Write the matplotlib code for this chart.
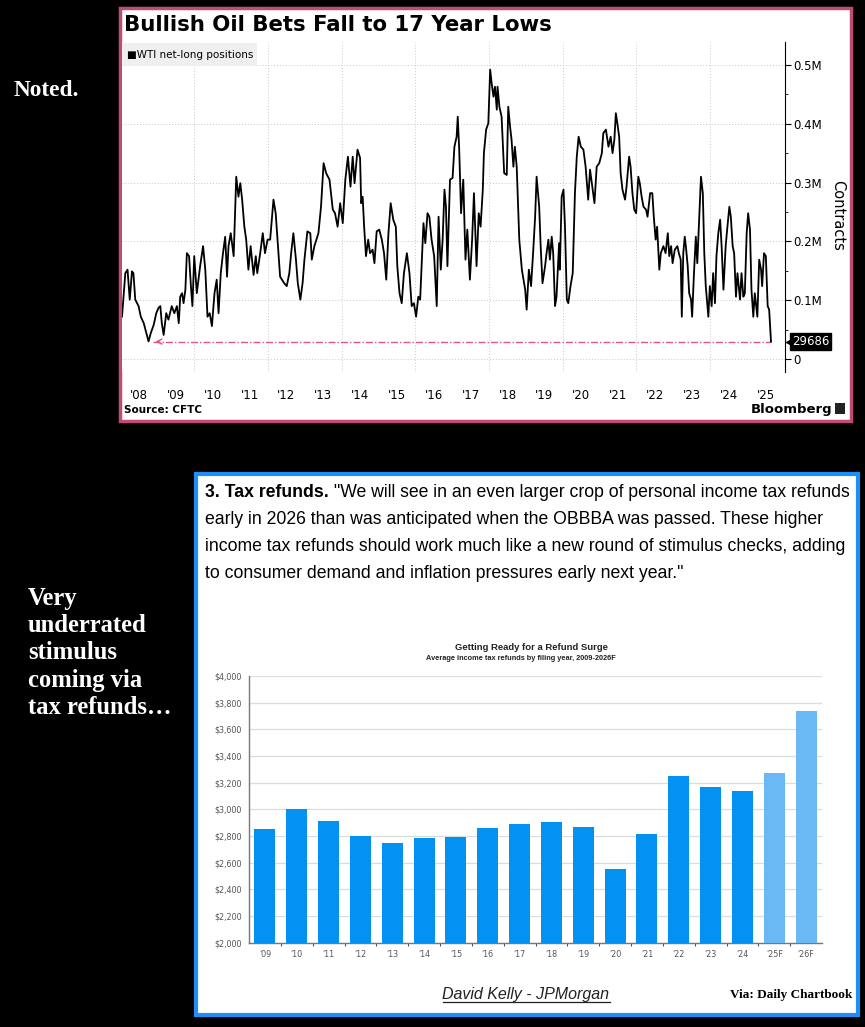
import matplotlib
matplotlib.use('Agg')
import matplotlib.pyplot as plt
import matplotlib.transforms as mtransforms
from matplotlib.patches import Rectangle
from matplotlib.lines import Line2D

# ---- data: WTI net-long positions (thousand contracts)
oil_year = [2008.04, 2008.13, 2008.19, 2008.25, 2008.31, 2008.35, 2008.40, 2008.49, 2008.55, 2008.63,
            2008.70, 2008.76, 2008.82, 2008.90, 2008.97, 2009.03, 2009.08, 2009.12, 2009.17, 2009.24,
            2009.30, 2009.39, 2009.46, 2009.53, 2009.58, 2009.62, 2009.67, 2009.71, 2009.76, 2009.80,
            2009.86, 2009.91, 2009.95, 2010.00, 2010.07, 2010.16, 2010.24, 2010.30, 2010.36, 2010.42,
            2010.48, 2010.55, 2010.61, 2010.66, 2010.72, 2010.78, 2010.84, 2010.89, 2010.93, 2010.99,
            2011.07, 2011.14, 2011.20, 2011.25, 2011.30, 2011.36, 2011.41, 2011.47, 2011.53, 2011.61,
            2011.67, 2011.71, 2011.79, 2011.86, 2011.92, 2011.99, 2012.06, 2012.15, 2012.21, 2012.26,
            2012.33, 2012.44, 2012.51, 2012.58, 2012.63, 2012.69, 2012.76, 2012.81, 2012.88, 2012.94,
            2012.99, 2013.07, 2013.15, 2013.19, 2013.26, 2013.37, 2013.44, 2013.51, 2013.58, 2013.67,
            2013.76, 2013.82, 2013.89, 2013.96, 2014.03, 2014.10, 2014.17, 2014.24, 2014.30, 2014.35,
            2014.43, 2014.50, 2014.53, 2014.57, 2014.61, 2014.66, 2014.72, 2014.77, 2014.84, 2014.89,
            2014.95, 2015.02, 2015.09, 2015.15, 2015.21, 2015.27, 2015.33, 2015.40, 2015.47, 2015.51,
            2015.57, 2015.63, 2015.69, 2015.77, 2015.84, 2015.90, 2015.96, 2016.02, 2016.08, 2016.13,
            2016.17, 2016.22, 2016.27, 2016.33, 2016.38, 2016.44, 2016.51, 2016.58, 2016.63, 2016.69,
            2016.74, 2016.79, 2016.83, 2016.87, 2016.94, 2017.01, 2017.06, 2017.12, 2017.15, 2017.19,
            2017.24, 2017.30, 2017.36, 2017.41, 2017.48, 2017.54, 2017.59, 2017.66, 2017.72, 2017.77,
            2017.83, 2017.86, 2017.92, 2017.98, 2018.03, 2018.07, 2018.12, 2018.16, 2018.21, 2018.23,
            2018.28, 2018.34, 2018.41, 2018.48, 2018.52, 2018.57, 2018.61, 2018.66, 2018.70, 2018.75,
            2018.82, 2018.89, 2018.98, 2019.02, 2019.08, 2019.14, 2019.20, 2019.25, 2019.29, 2019.36,
            2019.40, 2019.45, 2019.52, 2019.56, 2019.61, 2019.65, 2019.70, 2019.74, 2019.79, 2019.83,
            2019.90, 2019.92, 2019.97, 2020.02, 2020.06, 2020.11, 2020.15, 2020.21, 2020.27, 2020.33,
            2020.38, 2020.43, 2020.49, 2020.56, 2020.62, 2020.69, 2020.74, 2020.80, 2020.86, 2020.92,
            2020.99, 2021.06, 2021.10, 2021.17, 2021.24, 2021.30, 2021.35, 2021.40, 2021.44, 2021.48,
            2021.53, 2021.57, 2021.62, 2021.69, 2021.73, 2021.80, 2021.84, 2021.89, 2021.94, 2021.99,
            2022.05, 2022.09, 2022.14, 2022.19, 2022.26, 2022.30, 2022.37, 2022.43, 2022.47, 2022.52,
            2022.56, 2022.62, 2022.66, 2022.73, 2022.79, 2022.85, 2022.89, 2022.94, 2022.98, 2023.04,
            2023.11, 2023.15, 2023.20, 2023.23, 2023.27, 2023.31, 2023.34, 2023.39, 2023.43, 2023.48,
            2023.51, 2023.56, 2023.61, 2023.65, 2023.70, 2023.75, 2023.80, 2023.84, 2023.88, 2023.95,
            2023.99, 2024.04, 2024.08, 2024.13, 2024.17, 2024.22, 2024.27, 2024.31, 2024.36, 2024.42,
            2024.46, 2024.52, 2024.56, 2024.61, 2024.65, 2024.70, 2024.74, 2024.81, 2024.85, 2024.90,
            2024.94, 2024.99, 2025.03, 2025.08, 2025.12, 2025.17, 2025.21, 2025.28, 2025.33, 2025.38,
            2025.41, 2025.46, 2025.51, 2025.56, 2025.60, 2025.65]
oil_k = [72, 146, 152, 101, 149, 146, 101, 90, 72, 61,
         44, 30, 44, 58, 78, 87, 90, 61, 41, 78,
         67, 90, 78, 90, 61, 106, 112, 95, 118, 180,
         175, 124, 90, 175, 112, 158, 192, 152, 72, 78,
         56, 112, 135, 78, 146, 180, 208, 140, 192, 214,
         175, 310, 276, 299, 271, 225, 203, 152, 192, 143,
         175, 146, 180, 214, 180, 203, 203, 271, 248, 203,
         140, 129, 124, 146, 180, 214, 169, 129, 101, 129,
         169, 217, 214, 169, 192, 214, 259, 333, 316, 305,
         254, 248, 225, 265, 231, 305, 344, 293, 344, 299,
         356, 342, 265, 276, 225, 175, 203, 180, 186, 163,
         217, 220, 203, 180, 135, 214, 265, 237, 225, 158,
         112, 95, 146, 180, 146, 90, 95, 72, 106, 101,
         158, 231, 197, 248, 242, 203, 175, 90, 242, 152,
         203, 288, 259, 158, 305, 308, 361, 378, 412, 356,
         248, 305, 169, 220, 135, 203, 282, 158, 248, 225,
         288, 350, 390, 401, 492, 469, 446, 463, 424, 463,
         429, 412, 316, 313, 429, 395, 373, 327, 361, 327,
         203, 152, 118, 84, 152, 124, 186, 242, 310, 259,
         192, 129, 158, 180, 203, 169, 208, 180, 90, 106,
         197, 152, 276, 288, 225, 101, 95, 124, 146, 282,
         344, 378, 361, 356, 327, 271, 322, 293, 265, 327,
         333, 350, 384, 390, 361, 378, 350, 373, 418, 401,
         378, 316, 288, 271, 293, 344, 327, 282, 254, 248,
         310, 299, 276, 259, 254, 242, 282, 282, 242, 203,
         225, 152, 180, 192, 180, 214, 175, 192, 163, 186,
         192, 180, 169, 72, 180, 208, 192, 158, 112, 101,
         72, 146, 208, 163, 237, 310, 282, 180, 124, 72,
         124, 90, 146, 95, 175, 214, 237, 192, 118, 192,
         220, 259, 242, 192, 180, 106, 146, 101, 146, 106,
         112, 214, 248, 220, 118, 72, 112, 72, 169, 152,
         124, 180, 175, 90, 84, 29.686]
latest_contracts = 29686
low_year = 2008.87
oil_ticks_k = [0, 100, 200, 300, 400, 500]
oil_tick_labels = ['0', '0.1M', '0.2M', '0.3M', '0.4M', '0.5M']
year_labels = ["'%02d" % (y % 100) for y in range(2008, 2026)]

# ---- data: average income tax refund by filing year
refund_labels = ["'09", "'10", "'11", "'12", "'13", "'14", "'15", "'16", "'17",
                 "'18", "'19", "'20", "'21", "'22", "'23", "'24", "'25F", "'26F"]
refund_avg = [2855, 3000, 2910, 2800, 2750, 2788, 2795, 2860, 2890,
              2905, 2870, 2550, 2812, 3250, 3170, 3138, 3275, 3738]
refund_forecast = [False] * 16 + [True] * 2

paragraph = ['early in 2026 than was anticipated when the OBBBA was passed. These higher',
             'income tax refunds should work much like a new round of stimulus checks, adding',
             'to consumer demand and inflation pressures early next year."']
blurb = ['Very', 'underrated', 'stimulus', 'coming via', 'tax refunds\u2026']

W, H = 865, 1027


def fx(x):
    return x / W


def fy(y):
    return 1 - y / H


def box(x0, y0, x1, y1):
    return [fx(x0), fy(y1), (x1 - x0) / W, (y1 - y0) / H]


fig = plt.figure(figsize=(W / 100, H / 100), dpi=100, facecolor='black')

# ================= top panel: Bloomberg chart =================
fig.add_artist(Rectangle((fx(120), fy(421)), 731 / W, 413 / H, transform=fig.transFigure,
                         fc='white', ec='#c24b72', lw=2.5, zorder=0))

ax1 = fig.add_axes(box(122, 42, 785, 372))
ax1.set_facecolor('white')
ax1.plot(oil_year, oil_k, color='black', lw=1.3, zorder=3)
ax1.set_xlim(2008.04, 2026.03)
ax1.set_ylim(-22, 539)

for s in ['top', 'left', 'bottom']:
    ax1.spines[s].set_visible(False)
ax1.spines['right'].set_linewidth(0.8)
ax1.yaxis.tick_right()
ax1.set_yticks(oil_ticks_k)
ax1.set_yticklabels(oil_tick_labels)
ax1.set_yticks([50, 150, 250, 350, 450], minor=True)
ax1.tick_params(axis='y', which='major', length=4, width=0.8, labelsize=8.5, pad=2)
ax1.tick_params(axis='y', which='minor', length=2.5, width=0.6)

ax1.set_xticks(list(range(2010, 2025, 2)))
ax1.set_xticklabels([])
ax1.set_xticks([y + 0.5 for y in range(2008, 2026)], minor=True)
ax1.set_xticklabels(year_labels, minor=True)
ax1.tick_params(axis='x', which='both', length=0)
ax1.tick_params(axis='x', which='minor', labelsize=8.5, pad=12)
ax1.grid(True, which='major', color='#c8c8c8', lw=0.7, ls=(0, (1, 2)))

# dashed marker line at the latest level
ax1.plot([low_year, oil_year[-1]], [latest_contracts / 1000] * 2, color='#e8537d', lw=1,
         ls=(0, (5, 1.5, 1, 1.5)), zorder=2)
ax1.annotate('', xy=(low_year, latest_contracts / 1000), xytext=(low_year + 0.25, latest_contracts / 1000),
             arrowprops=dict(arrowstyle='->', color='#e8537d', lw=1, mutation_scale=9), zorder=2)

# value tag on right axis
ax1.annotate(str(latest_contracts), xy=(1, latest_contracts / 1000), xycoords=('axes fraction', 'data'),
             xytext=(5, 0), textcoords='offset points', ha='left', va='center', color='white',
             fontsize=8.5, annotation_clip=False,
             bbox=dict(boxstyle='square,pad=0.15', fc='black', ec='black'))
trans = mtransforms.blended_transform_factory(ax1.transAxes, ax1.transData)
ax1.plot([1.006], [latest_contracts / 1000], marker='<', ms=5, color='black', transform=trans, clip_on=False)

fig.text(fx(838), fy(215), 'Contracts', rotation=270, ha='center', va='center', fontsize=10.5)
fig.text(fx(124), fy(25), 'Bullish Oil Bets Fall to 17 Year Lows', fontsize=15.3, weight='bold',
         ha='left', va='center')
fig.add_artist(Rectangle((fx(122), fy(66)), 135 / W, 23 / H, transform=fig.transFigure,
                         fc='#efefef', ec='none', zorder=5))
fig.text(fx(127), fy(54.5), '\u25a0WTI net-long positions', fontsize=7.5, ha='left', va='center', zorder=6)
fig.text(fx(124), fy(410), 'Source: CFTC', fontsize=7.5, weight='bold', ha='left', va='center')
fig.text(fx(832), fy(409), 'Bloomberg', fontsize=9.5, weight='bold', ha='right', va='center')
fig.add_artist(Rectangle((fx(835), fy(414)), 10 / W, 11 / H, transform=fig.transFigure,
                         fc='#222222', ec='none'))

# ================= bottom panel: tax refunds =================
fig.add_artist(Rectangle((fx(196), fy(1015)), 662 / W, 541 / H, transform=fig.transFigure,
                         fc='white', ec='#1e8ff5', lw=3, zorder=0))

para_font = dict(family='Liberation Sans', fontsize=12.7, color='black', va='baseline')
t_bold = fig.text(fx(205), fy(497), '3. Tax refunds.', weight='bold', ha='left', **para_font)
fig.canvas.draw()
rend = fig.canvas.get_renderer()
bb = t_bold.get_window_extent(rend)
fig.text(bb.x1 / W, fy(497),
         ' "We will see in an even larger crop of personal income tax refunds', ha='left', **para_font)
for i, line in enumerate(paragraph):
    fig.text(fx(205), fy(524 + i * 26.8), line, ha='left', **para_font)

ax2 = fig.add_axes(box(249, 676, 822, 942.7))
colors = ['#6ab8f4' if f else '#0391f2' for f in refund_forecast]
ax2.bar(range(len(refund_avg)), refund_avg, width=0.66, color=colors, zorder=3)
ax2.set_xlim(-0.5, len(refund_avg) - 0.5)
ax2.set_ylim(2000, 4000)
ax2.set_yticks(range(2000, 4001, 200))
ax2.set_yticklabels(['${:,}'.format(v) for v in range(2000, 4001, 200)])
ax2.set_xticks(range(len(refund_labels)))
ax2.set_xticklabels(refund_labels)
ax2.set_xticks([i + 0.5 for i in range(len(refund_labels) - 1)], minor=True)
ax2.tick_params(axis='x', which='major', length=0, labelsize=5.8, labelcolor='#555555', pad=5)
ax2.tick_params(axis='x', which='minor', length=2.5, color='#555555', width=0.8)
ax2.tick_params(axis='y', length=0, labelsize=5.8, labelcolor='#555555', pad=5)
ax2.grid(True, axis='y', color='#dcdcdc', lw=0.9)
ax2.set_axisbelow(True)
for s in ['top', 'right']:
    ax2.spines[s].set_visible(False)
for s in ['left', 'bottom']:
    ax2.spines[s].set_color('#777777')
    ax2.spines[s].set_linewidth(1)

fig.text(fx(531), fy(648), 'Getting Ready for a Refund Surge', family='Liberation Sans',
         fontsize=6.8, weight='bold', ha='center', va='center', color='#222222')
fig.text(fx(521), fy(659), 'Average income tax refunds by filing year, 2009-2026F', family='Liberation Sans',
         fontsize=5.3, weight='bold', ha='center', va='center', color='#222222')

t_dk = fig.text(fx(526), fy(999), 'David Kelly - JPMorgan', family='Liberation Sans', style='italic',
                fontsize=11.5, ha='center', va='baseline', color='#222222')
fig.canvas.draw()
bb = t_dk.get_window_extent(fig.canvas.get_renderer())
fig.add_artist(Line2D([bb.x0 / W, bb.x1 / W], [fy(1002)] * 2, transform=fig.transFigure,
                      color='#222222', lw=0.9))
fig.text(fx(852), fy(995), 'Via: Daily Chartbook', family='Liberation Serif', weight='bold',
         fontsize=9.5, ha='right', va='center', color='black')

# ================= side notes =================
fig.text(fx(14), fy(91), 'Noted.', family='Liberation Serif', weight='bold', fontsize=16.8,
         color='white', ha='left', va='center')
for i, line in enumerate(blurb):
    fig.text(fx(28), fy(598 + i * 27.4), line, family='Liberation Serif', weight='bold',
             fontsize=17.7, color='white', ha='left', va='center')

fig.savefig('out.png', dpi=100, facecolor='black')
